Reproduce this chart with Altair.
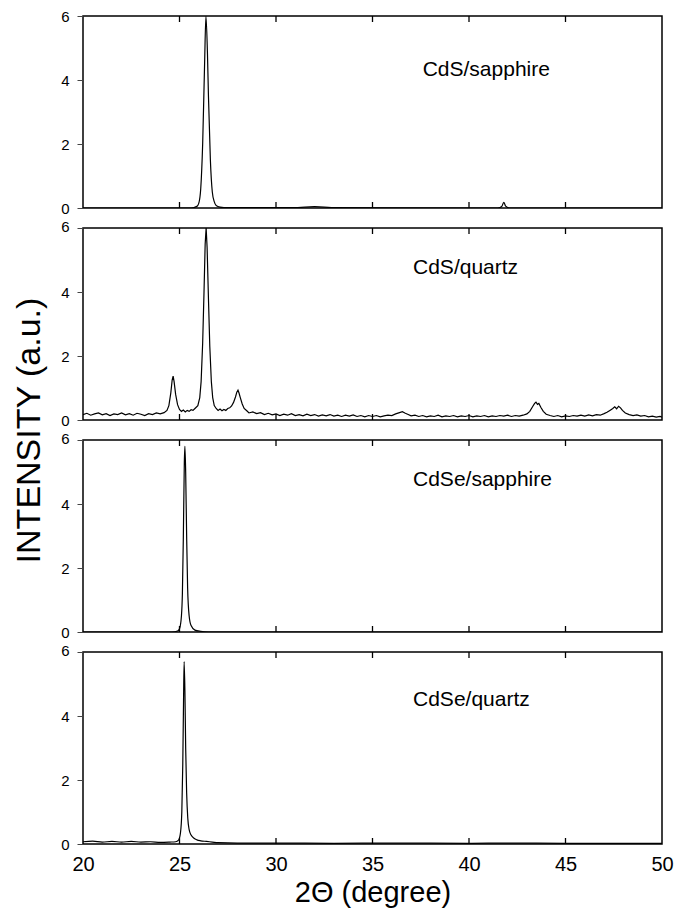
import altair as alt
import pandas as pd

FONT = "Liberation Sans"
W, H = 579, 192

X_TICKS = [20, 25, 30, 35, 40, 45, 50]
INNER_TICKS = [25, 30, 35, 40, 45]
Y_TICKS = [0, 2, 4, 6]

# ---- CdS / sapphire ----
cds_sap_x = [20.0, 24.0, 25.6, 25.9, 26.0, 26.1, 26.2, 26.3, 26.37, 26.45, 26.5, 26.6, 26.7, 26.8,
             26.9, 27.1, 27.5, 31.0, 31.5, 32.0, 32.5, 33.0, 41.5, 41.7, 41.8, 41.9, 42.1, 50.0]
cds_sap_y = [0.0, 0.0, 0.0, 0.05, 0.15, 0.6, 2.0, 4.5, 6.0, 4.8, 3.5, 1.5, 0.5, 0.2,
             0.08, 0.03, 0.01, 0.01, 0.03, 0.04, 0.03, 0.01, 0.0, 0.05, 0.18, 0.06, 0.0, 0.0]

# ---- CdS / quartz ----
cds_qz_x = [20.0, 20.2, 20.4, 20.6, 20.8, 21.0, 21.2, 21.4, 21.6, 21.8, 22.0, 22.2, 22.4, 22.6, 22.8,
            23.0, 23.2, 23.4, 23.6, 23.8, 24.0, 24.2, 24.35, 24.45, 24.55, 24.62, 24.67, 24.72, 24.8,
            24.9, 25.0, 25.1, 25.2, 25.3, 25.4, 25.5, 25.6, 25.7, 25.8, 25.95, 26.05, 26.12, 26.2,
            26.27, 26.33, 26.38, 26.43, 26.5, 26.57, 26.65, 26.72, 26.8, 26.9, 27.0, 27.1, 27.2,
            27.3, 27.4, 27.5, 27.6, 27.7, 27.8, 27.9, 27.97, 28.03, 28.08, 28.15, 28.25, 28.35,
            28.5, 28.6, 28.8, 29.0, 29.2, 29.4, 29.6, 29.8, 30.0, 30.2, 30.4, 30.6, 30.8, 31.0,
            31.2, 31.4, 31.6, 31.8, 32.0, 32.2, 32.4, 32.6, 32.8, 33.0, 33.2, 33.4, 33.6, 33.8,
            34.0, 34.2, 34.4, 34.6, 34.8, 35.0, 35.2, 35.4, 35.6, 35.8, 36.0, 36.2, 36.4, 36.55,
            36.7, 36.85, 37.0, 37.2, 37.4, 37.6, 37.8, 38.0, 38.2, 38.4, 38.6, 38.8, 39.0, 39.2,
            39.4, 39.6, 39.8, 40.0, 40.2, 40.4, 40.6, 40.8, 41.0, 41.2, 41.4, 41.6, 41.8, 42.0,
            42.2, 42.4, 42.6, 42.8, 43.0, 43.15, 43.3, 43.4, 43.47, 43.55, 43.62, 43.72, 43.85,
            44.0, 44.2, 44.4, 44.6, 44.8, 45.0, 45.2, 45.4, 45.6, 45.8, 46.0, 46.2, 46.4, 46.6,
            46.8, 47.0, 47.15, 47.3, 47.45, 47.55, 47.65, 47.75, 47.85, 47.95, 48.1, 48.3, 48.5,
            48.7, 48.9, 49.1, 49.3, 49.5, 49.7, 49.9, 50.0]
cds_qz_y = [0.17, 0.21, 0.15, 0.19, 0.22, 0.16, 0.20, 0.14, 0.19, 0.17, 0.22, 0.16, 0.20, 0.15, 0.21,
            0.18, 0.14, 0.20, 0.17, 0.22, 0.19, 0.23, 0.30, 0.45, 0.85, 1.25, 1.37, 1.20, 0.80,
            0.48, 0.33, 0.27, 0.31, 0.25, 0.30, 0.27, 0.32, 0.30, 0.36, 0.45, 0.70, 1.20, 2.40,
            4.00, 5.50, 6.00, 5.40, 3.80, 2.30, 1.20, 0.70, 0.45, 0.36, 0.30, 0.34, 0.29,
            0.33, 0.30, 0.36, 0.38, 0.44, 0.55, 0.72, 0.87, 0.93, 0.85, 0.70, 0.50, 0.36,
            0.28, 0.22, 0.25, 0.20, 0.23, 0.17, 0.21, 0.16, 0.19, 0.14, 0.18, 0.15, 0.20, 0.14,
            0.17, 0.13, 0.18, 0.14, 0.17, 0.12, 0.16, 0.13, 0.17, 0.12, 0.15, 0.11, 0.15, 0.12,
            0.16, 0.11, 0.14, 0.10, 0.14, 0.11, 0.14, 0.10, 0.13, 0.15, 0.14, 0.19, 0.23, 0.26,
            0.21, 0.17, 0.13, 0.15, 0.11, 0.14, 0.10, 0.13, 0.11, 0.15, 0.10, 0.13, 0.11, 0.14,
            0.10, 0.13, 0.11, 0.14, 0.10, 0.13, 0.11, 0.14, 0.10, 0.13, 0.11, 0.14, 0.12, 0.15,
            0.11, 0.14, 0.12, 0.15, 0.19, 0.27, 0.42, 0.52, 0.56, 0.49, 0.52, 0.40, 0.27,
            0.18, 0.14, 0.11, 0.14, 0.10, 0.13, 0.11, 0.14, 0.12, 0.15, 0.12, 0.16, 0.13, 0.17,
            0.15, 0.20, 0.24, 0.30, 0.36, 0.41, 0.35, 0.43, 0.38, 0.30, 0.22, 0.17, 0.14,
            0.16, 0.12, 0.14, 0.10, 0.12, 0.09, 0.11, 0.09]

# ---- CdSe / sapphire ----
cdse_sap_x = [20.0, 24.6, 24.9, 25.0, 25.1, 25.15, 25.2, 25.25, 25.28, 25.32, 25.37, 25.42, 25.5,
              25.6, 25.8, 26.1, 26.5, 50.0]
cdse_sap_y = [0.0, 0.0, 0.03, 0.1, 0.5, 1.2, 3.0, 5.3, 5.8, 5.0, 3.0, 1.4, 0.5,
              0.2, 0.06, 0.02, 0.0, 0.0]

# ---- CdSe / quartz ----
cdse_qz_x = [20.0, 20.5, 21.0, 21.5, 22.0, 22.5, 23.0, 23.5, 24.0, 24.5, 24.8, 24.95, 25.05, 25.12,
             25.17, 25.21, 25.24, 25.28, 25.32, 25.37, 25.43, 25.5, 25.6, 25.75, 25.9, 26.1, 26.4,
             26.7, 27.0, 28.0, 30.0, 33.0, 36.0, 40.0, 42.0, 45.0, 48.0, 50.0]
cdse_qz_y = [0.07, 0.09, 0.06, 0.08, 0.06, 0.08, 0.06, 0.07, 0.05, 0.06, 0.07, 0.12, 0.35, 1.0,
             2.5, 4.5, 5.7, 4.8, 3.0, 1.6, 0.8, 0.45, 0.28, 0.18, 0.13, 0.10, 0.08,
             0.06, 0.04, 0.03, 0.03, 0.02, 0.03, 0.02, 0.03, 0.02, 0.02, 0.02]

labels = ["CdS/sapphire", "CdS/quartz", "CdSe/sapphire", "CdSe/quartz"]
label_x = [37.6, 37.1, 37.1, 37.1]
label_y = [4.3, 4.75, 4.75, 4.5]

series = [(cds_sap_x, cds_sap_y), (cds_qz_x, cds_qz_y), (cdse_sap_x, cdse_sap_y), (cdse_qz_x, cdse_qz_y)]
interp = ["monotone", "linear", "monotone", "monotone"]


def make_panel(i):
    xs, ys = series[i]
    df = pd.DataFrame({"x": xs, "y": ys})
    bottom = i == len(series) - 1

    y_kw = dict(values=Y_TICKS, tickSize=6, tickColor="#444444", tickWidth=1, domain=False, grid=False,
                labelFontSize=15, labelPadding=8, labelFont=FONT, labelColor="black", format="d",
                labelFlush=False)
    if i > 0:
        y_kw["labelOffset"] = {"condition": {"test": "datum.value == 6", "value": -2}, "value": 0}
    if i == 1:
        y_kw.update(title="INTENSITY (a.u.)", titleFont=FONT, titleFontSize=34, titleFontWeight="normal",
                    titleColor="black", titleX=-44, titleY=202, titleAngle=270, titleAlign="center",
                    titleBaseline="alphabetic")
    else:
        y_kw["title"] = None
    yaxis = alt.Axis(**y_kw)

    if bottom:
        xaxis = alt.Axis(values=X_TICKS, tickSize=0, domain=False, grid=False, labelFontSize=20,
                         labelPadding=10, labelFont=FONT, labelColor="black", labelFlush=False,
                         title="2Θ (degree)", titleFont=FONT, titleFontSize=29, titleFontWeight="normal",
                         titleColor="black", titlePadding=4)
    else:
        xaxis = None

    line = alt.Chart(df).mark_line(color="black", strokeWidth=1.2, interpolate=interp[i], clip=True).encode(
        x=alt.X("x:Q", scale=alt.Scale(domain=[20, 50], nice=False, zero=False), axis=xaxis),
        y=alt.Y("y:Q", scale=alt.Scale(domain=[0, 6], nice=False), axis=yaxis),
    )
    tick_df = pd.DataFrame({"x": INNER_TICKS})
    top_ticks = alt.Chart(tick_df).mark_rule(color="black", strokeWidth=1.3).encode(
        x="x:Q", y=alt.value(0), y2=alt.value(6))
    bot_ticks = alt.Chart(tick_df).mark_rule(color="black", strokeWidth=1.3).encode(
        x="x:Q", y=alt.value(H - 6), y2=alt.value(H))
    lab_df = pd.DataFrame({"x": [label_x[i]], "y": [label_y[i]], "label": [labels[i]]})
    text = alt.Chart(lab_df).mark_text(align="left", baseline="middle", fontSize=21, font=FONT,
                                       color="black").encode(x="x:Q", y="y:Q", text="label:N")
    return alt.layer(line, top_ticks, bot_ticks, text).properties(width=W, height=H)


chart = alt.vconcat(*[make_panel(i) for i in range(4)], spacing=20, bounds="flush").configure_view(
    stroke="black", strokeWidth=1.5
).properties(padding={"left": 3, "top": 0, "right": 5, "bottom": 5})

chart.save("out.html", embed_options={"renderer": "svg", "actions": False})
